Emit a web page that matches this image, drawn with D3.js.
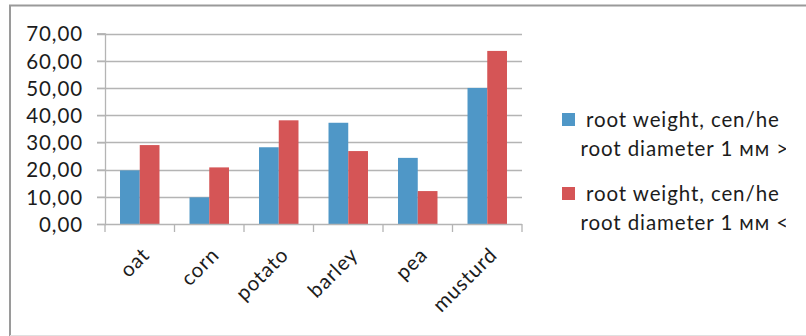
<!DOCTYPE html>
<html>
<head>
<meta charset="utf-8">
<script src="https://cdn.jsdelivr.net/npm/d3@7"></script>
<style>
  html, body { margin: 0; padding: 0; background: #fff; }
  svg { display: block; }
  text { font-family: Lato, "Open Sans", sans-serif; fill: #1c1c1c; letter-spacing: 0.9px; }
</style>
</head>
<body>
<svg id="chart" width="806" height="336"></svg>
<script>
// Crops and the two root-weight series (cen/ha)
const categories = ["oat", "corn", "potato", "barley", "pea", "musturd"];
const thickRoots = [19.7, 9.8, 28.2, 37.2, 24.3, 50.0];
const thinRoots = [29.0, 20.8, 38.1, 26.8, 12.1, 63.6];
const yTicks = [0, 10, 20, 30, 40, 50, 60, 70];
const seriesNames = [
  ["root weight, cen/he", "root diameter 1 мм >"],
  ["root weight, cen/he", "root diameter 1 мм <"]
];
const seriesColors = ["#4f97c7", "#d55556"];

const svg = d3.select("#chart");
const fontSize = "20.5px";

// frame of the chart area
svg.append("line").attr("x1", 9).attr("x2", 806).attr("y1", 5.5).attr("y2", 5.5)
  .attr("stroke", "#9a9a9a").attr("stroke-width", 2);
svg.append("line").attr("x1", 10).attr("x2", 10).attr("y1", 5).attr("y2", 336)
  .attr("stroke", "#9a9a9a").attr("stroke-width", 2);
svg.append("line").attr("x1", 10).attr("x2", 806).attr("y1", 335.5).attr("y2", 335.5)
  .attr("stroke", "#e0e0e0").attr("stroke-width", 1);

const plot = { left: 105, right: 522, top: 33.5, bottom: 224 };

const x = d3.scaleBand().domain(categories).range([plot.left, plot.right])
  .paddingInner(0.432).paddingOuter(0.216);
const xSub = d3.scaleBand().domain([0, 1]).range([0, x.bandwidth()]);
const y = d3.scaleLinear().domain([0, 70]).range([plot.bottom, plot.top]);

// gridlines
svg.append("g").selectAll("line").data(yTicks.filter(d => d > 0)).join("line")
  .attr("x1", plot.left - 8).attr("x2", plot.right)
  .attr("y1", d => Math.round(y(d)) + 0.5).attr("y2", d => Math.round(y(d)) + 0.5)
  .attr("stroke", "#b4b4b4").attr("stroke-width", 1.3);

// y axis
const yAxis = d3.axisLeft(y).tickValues(yTicks).tickSize(8)
  .tickFormat(d => d3.format(".2f")(d).replace(".", ","));
const gy = svg.append("g").attr("transform", `translate(${plot.left},0)`).call(yAxis);
gy.select(".domain").attr("stroke", "#b4b4b4").attr("stroke-width", 1.3);
gy.selectAll(".tick line").attr("stroke", "#b4b4b4").attr("stroke-width", 1.3);
gy.selectAll(".tick text").attr("x", -22).attr("dy", "0.36em")
  .style("font-size", fontSize).attr("fill", "#1c1c1c");

// bars
const groups = svg.append("g").selectAll("g").data(categories).join("g")
  .attr("transform", d => `translate(${x(d)},0)`);
groups.selectAll("rect")
  .data((d, i) => [thickRoots[i], thinRoots[i]].map((v, s) => ({ v, s })))
  .join("rect")
  .attr("x", d => xSub(d.s))
  .attr("width", xSub.bandwidth())
  .attr("y", d => y(d.v))
  .attr("height", d => y(0) - y(d.v))
  .attr("fill", d => seriesColors[d.s]);

// x axis
const x0 = d3.scaleLinear().domain([0, categories.length]).range([plot.left, plot.right]);
const gx = svg.append("g").attr("transform", `translate(0,${plot.bottom})`);
gx.append("line").attr("x1", plot.left).attr("x2", plot.right).attr("y1", 0.5).attr("y2", 0.5)
  .attr("stroke", "#b4b4b4").attr("stroke-width", 1.3);
gx.selectAll("line.tk").data(d3.range(categories.length + 1)).join("line").attr("class", "tk")
  .attr("x1", d => x0(d)).attr("x2", d => x0(d)).attr("y1", 0).attr("y2", 8)
  .attr("stroke", "#b4b4b4").attr("stroke-width", 1.3);
gx.selectAll("text").data(categories).join("text")
  .attr("transform", d => `translate(${x(d) + x.bandwidth() / 2 + 1},${22}) rotate(-45)`)
  .attr("text-anchor", "end").attr("dy", "0.7em")
  .style("font-size", fontSize)
  .text(d => d);

// legend
const clip = svg.append("clipPath").attr("id", "legclip");
clip.append("rect").attr("x", 540).attr("y", 0).attr("width", 246).attr("height", 336);
const leg = svg.append("g").attr("clip-path", "url(#legclip)");
const legY = [113, 187];
seriesNames.forEach((lines, i) => {
  leg.append("rect").attr("x", 562).attr("y", legY[i]).attr("width", 13).attr("height", 13)
    .attr("fill", seriesColors[i]);
  leg.append("text").attr("x", 586).attr("y", legY[i] + 13.5).style("font-size", fontSize).text(lines[0]);
  leg.append("text").attr("x", 580.5).attr("y", legY[i] + 43).style("font-size", fontSize).text(lines[1]);
});
</script>
</body>
</html>
